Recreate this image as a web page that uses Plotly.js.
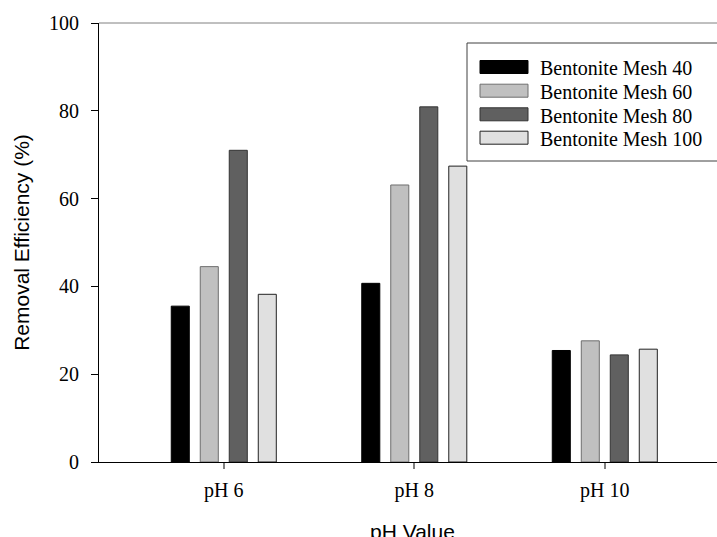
<!DOCTYPE html>
<html>
<head>
<meta charset="utf-8">
<script src="https://cdn.plot.ly/plotly-3.0.1.min.js"></script>
<style>html,body{margin:0;padding:0;background:#fff;}#chart{width:717px;height:537px;}</style>
</head>
<body>
<div id="chart"></div>
<script>
// ---- data ----
const categories = ["pH 6", "pH 8", "pH 10"];
const seriesNames = ["Bentonite Mesh 40", "Bentonite Mesh 60", "Bentonite Mesh 80", "Bentonite Mesh 100"];
const mesh40 = [35.5, 40.7, 25.4];
const mesh60 = [44.5, 63.1, 27.6];
const mesh80 = [71.0, 80.9, 24.4];
const mesh100 = [38.2, 67.4, 25.7];
const yTicks = [0, 20, 40, 60, 80, 100];
const xTitle = "pH Value";
const yTitle = "Removal Efficiency (%)";

// ---- styles ----
const fills = ["#000000", "#c0c0c0", "#606060", "#e0e0e0"];
const outlines = ["#000000", "#6e6e6e", "#333333", "#222222"];
const seriesValues = [mesh40, mesh60, mesh80, mesh100];

const W = 717, H = 537, L = 99, R = 0, T = 23, B = 75;
const px2x = p => (p - L) / (W - L - R);
const px2y = p => (H - B - p) / (H - B - T);

const traces = seriesValues.map((vals, i) => ({
  type: "bar",
  name: seriesNames[i],
  x: categories,
  y: vals,
  marker: {color: fills[i], line: {color: outlines[i], width: 1}},
  showlegend: false,
  hoverinfo: "skip"
}));

// custom legend (box + swatches + labels)
const shapes = [
  {type: "line", xref: "paper", yref: "paper", x0: 0, x1: 1.05, y0: 1, y1: 1, line: {color: "#808080", width: 1}},
  {type: "rect", xref: "paper", yref: "paper", x0: px2x(467), x1: 1.05, y0: px2y(161), y1: px2y(43), line: {color: "#404040", width: 1}, fillcolor: "rgba(0,0,0,0)"}
];
const annotations = [];
const rowCenters = [67, 90.7, 114.3, 137.7];
seriesNames.forEach((n, i) => {
  const c = rowCenters[i];
  shapes.push({type: "rect", xref: "paper", yref: "paper", x0: px2x(480), x1: px2x(528), y0: px2y(c + 6.5), y1: px2y(c - 6.5), fillcolor: fills[i], line: {color: outlines[i], width: 1}});
  annotations.push({xref: "paper", yref: "paper", x: px2x(538), y: px2y(c + 1.5), xanchor: "left", yanchor: "middle", showarrow: false, text: n, font: {family: "Liberation Serif, Times New Roman, serif", size: 20, color: "#000"}});
});
// x-axis title placed as an annotation so it can sit at the very bottom edge
annotations.push({xref: "paper", yref: "paper", x: px2x(412), y: px2y(518), xanchor: "center", yanchor: "top", showarrow: false, text: xTitle, font: {family: "Liberation Sans, Arial, sans-serif", size: 21, color: "#000"}});

const layout = {
  width: W, height: H,
  margin: {l: L, r: R, t: T, b: B, pad: 0},
  paper_bgcolor: "#fff", plot_bgcolor: "#fff",
  barmode: "group", bargap: 0.391, bargroupgap: 0.378,
  xaxis: {
    type: "category", range: [-0.655, 2.589],
    showline: true, linecolor: "#000", linewidth: 1,
    ticks: "outside", ticklen: 6, tickcolor: "#808080", tickwidth: 2,
    showgrid: false, zeroline: false,
    tickfont: {family: "Liberation Serif, Times New Roman, serif", size: 20, color: "#000"},
    ticklabelstandoff: 4,
    automargin: false
  },
  yaxis: {
    range: [0, 100], tickvals: yTicks, ticktext: yTicks.map(String),
    showline: true, linecolor: "#000", linewidth: 1,
    ticks: "outside", ticklen: 7, tickcolor: "#000", tickwidth: 1,
    showgrid: false, zeroline: false,
    tickfont: {family: "Liberation Serif, Times New Roman, serif", size: 20, color: "#000"},
    ticklabelstandoff: 8,
    title: {text: yTitle, standoff: 13, font: {family: "Liberation Sans, Arial, sans-serif", size: 21, color: "#000"}},
    automargin: false
  },
  shapes: shapes,
  annotations: annotations
};

Plotly.newPlot("chart", traces, layout, {staticPlot: true, displayModeBar: false});
</script>
</body>
</html>
